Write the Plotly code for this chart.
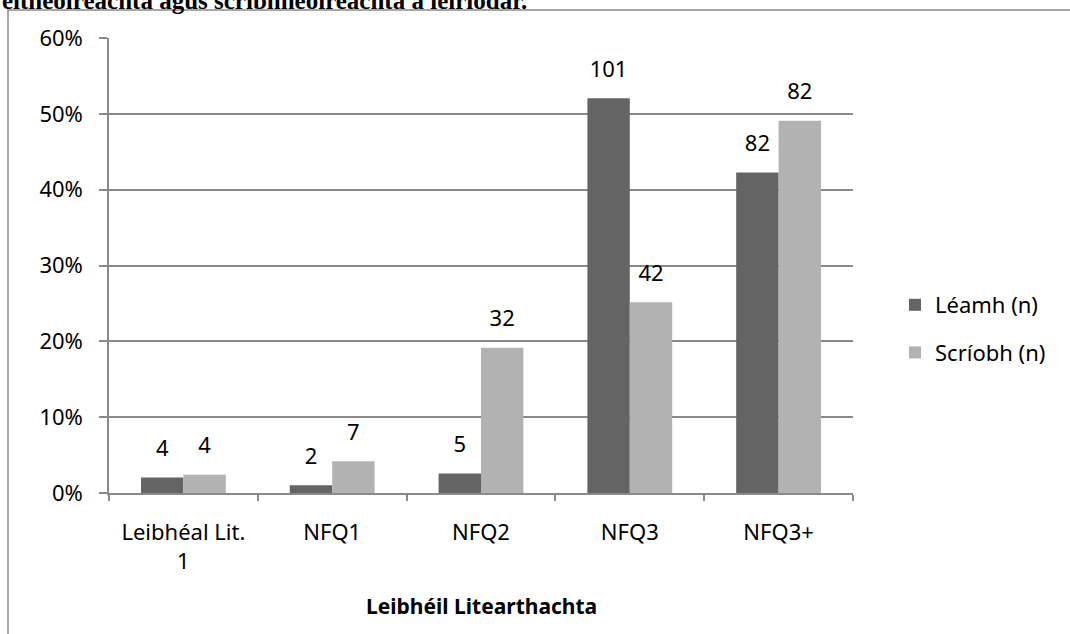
import plotly.graph_objects as go

categories = ["Leibhéal Lit.<br>1", "NFQ1", "NFQ2", "NFQ3", "NFQ3+"]
leamh_pct = [0.0206, 0.0103, 0.0258, 0.5206, 0.4227]
leamh_n = [4, 2, 5, 101, 82]
scriobh_pct = [0.0240, 0.0419, 0.1916, 0.2515, 0.4910]
scriobh_n = [4, 7, 32, 42, 82]
series_names = ["Léamh (n)", "Scríobh (n)"]
series_colors = ["#646464", "#b2b2b2"]
title_text = "eitheoireachta agus scríbhneoireachta a léiríodar."
x_title = "Leibhéil Litearthachta"

FONT = "Noto Sans"
FS = 22
GRID = "#8a8a8a"

fig = go.Figure()
for name, pct, n, col, grp in [
    (series_names[0], leamh_pct, leamh_n, series_colors[0], "a"),
    (series_names[1], scriobh_pct, scriobh_n, series_colors[1], "b"),
]:
    fig.add_trace(go.Bar(
        x=categories, y=pct, name=name,
        marker=dict(color=col, line=dict(width=0)),
        offsetgroup=grp, legendgroup=grp, hoverinfo="skip",
    ))
    fig.add_trace(go.Scatter(
        x=categories, y=pct, mode="markers+text",
        text=[str(v) for v in n], textposition="top center",
        textfont=dict(family=FONT, size=FS, color="#000"),
        marker=dict(size=24, opacity=0),
        offsetgroup=grp, showlegend=False, cliponaxis=False,
        hoverinfo="skip",
    ))

W, H = 1070, 634
L, R, T, B = 109, 853, 38, 493
pw, ph = R - L, B - T

def px_x(p):
    return (p - L) / pw

def px_y(p):
    return (B - p) / ph

fig.update_layout(
    width=W, height=H,
    margin=dict(l=L, r=W - R, t=T, b=H - B, pad=0),
    paper_bgcolor="white", plot_bgcolor="white",
    barmode="group", scattermode="group", bargap=0.43, bargroupgap=0,
    font=dict(family=FONT, size=FS, color="#000"),
    showlegend=True,
    legend=dict(
        x=px_x(895), y=px_y(329), xanchor="left", yanchor="middle",
        font=dict(family=FONT, size=FS, color="#000"),
        traceorder="grouped", tracegroupgap=16,
        bgcolor="rgba(0,0,0,0)", itemwidth=30,
    ),
    xaxis=dict(
        type="category", showgrid=False,
        showline=True, linecolor=GRID, linewidth=1.5,
        ticks="outside", tickson="boundaries", ticklen=6,
        tickcolor=GRID, tickwidth=1.5,
        tickfont=dict(family=FONT, size=FS, color="#000"),
        ticklabelstandoff=19,
    ),
    yaxis=dict(
        range=[0, 0.6], tickvals=[0, 0.1, 0.2, 0.3, 0.4, 0.5, 0.6],
        tickformat=".0%",
        showgrid=True, gridcolor=GRID, gridwidth=1.5,
        showline=True, linecolor=GRID, linewidth=1.5,
        ticks="outside", ticklen=8, tickcolor=GRID, tickwidth=1.5,
        tickfont=dict(family=FONT, size=FS, color="#000"),
        ticklabelstandoff=12, zeroline=False,
    ),
    shapes=[dict(
        type="rect", xref="paper", yref="paper",
        x0=px_x(8), x1=px_x(1090), y0=px_y(660), y1=px_y(10),
        line=dict(color="#8a8a8a", width=1.5), fillcolor="rgba(0,0,0,0)",
        layer="below",
    )],
    annotations=[
        dict(text="<b>" + title_text + "</b>", xref="paper", yref="paper",
             x=px_x(0), y=px_y(16), xanchor="left", yanchor="bottom",
             showarrow=False,
             font=dict(family="Liberation Serif", size=25, color="#000")),
        dict(text="<b>" + x_title + "</b>", xref="paper", yref="paper",
             x=0.5, y=px_y(606), xanchor="center", yanchor="middle",
             showarrow=False,
             font=dict(family=FONT, size=21, color="#000")),
    ],
)

fig.write_html("out.html", config={"displayModeBar": False},
               post_script="document.body.style.margin='0';")
